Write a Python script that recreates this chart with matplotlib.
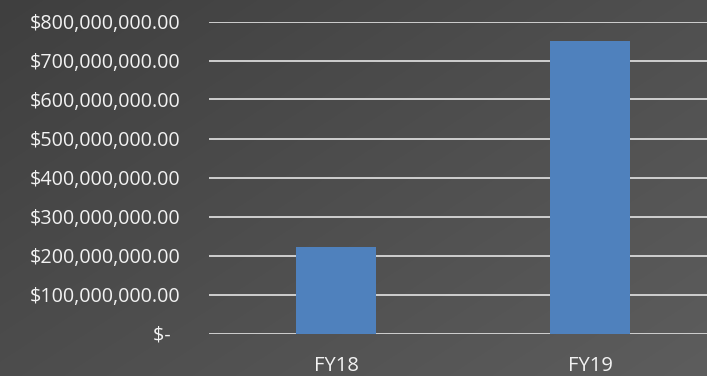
import numpy as np
import matplotlib.pyplot as plt
from matplotlib.ticker import FuncFormatter

categories = ["FY18", "FY19"]
values = [221_000_000, 751_000_000]
y_ticks = [0, 100e6, 200e6, 300e6, 400e6, 500e6, 600e6, 700e6, 800e6]

bar_color = "#4f81bd"
text_color = "#f2f2f2"
grid_color = "#d9d9d9"

plt.rcParams["font.family"] = ["Open Sans", "DejaVu Sans"]

fig = plt.figure(figsize=(7.07, 3.76), dpi=100)

# dark diagonal gradient background
bg = fig.add_axes([0, 0, 1, 1], zorder=0)
yy, xx = np.mgrid[0:1:376j, 0:1:707j]
shade = (0x3f + (0x5d - 0x3f) * (0.55 * xx + 0.45 * yy)) / 255
bg.imshow(np.dstack([shade, shade, shade]), aspect="auto", extent=[0, 1, 0, 1], origin="upper")
bg.axis("off")

ax = fig.add_axes([209 / 707, 1 - 333.5 / 376, 508 / 707, 312 / 376], zorder=1)
ax.patch.set_alpha(0)

x = np.arange(len(categories))
ax.bar(x, values, width=0.315, color=bar_color, zorder=3)

ax.set_xlim(-0.5, 1.5)
ax.set_ylim(0, 800e6)
ax.set_yticks(y_ticks)
ax.yaxis.grid(True, color=grid_color, linewidth=1.3)
ax.set_axisbelow(True)


def money(v, pos):
    if v == 0:
        return "$-  "
    return "${:,.2f}".format(v)


ax.yaxis.set_major_formatter(FuncFormatter(money))
ax.set_xticks(x)
ax.set_xticklabels(categories)
ax.tick_params(axis="y", length=0, pad=20.5, labelsize=14.2, labelcolor=text_color)
ax.tick_params(axis="x", length=0, pad=16, labelsize=14.5, labelcolor=text_color)
for s in ax.spines.values():
    s.set_visible(False)

fig.savefig("out.png", dpi=100)
